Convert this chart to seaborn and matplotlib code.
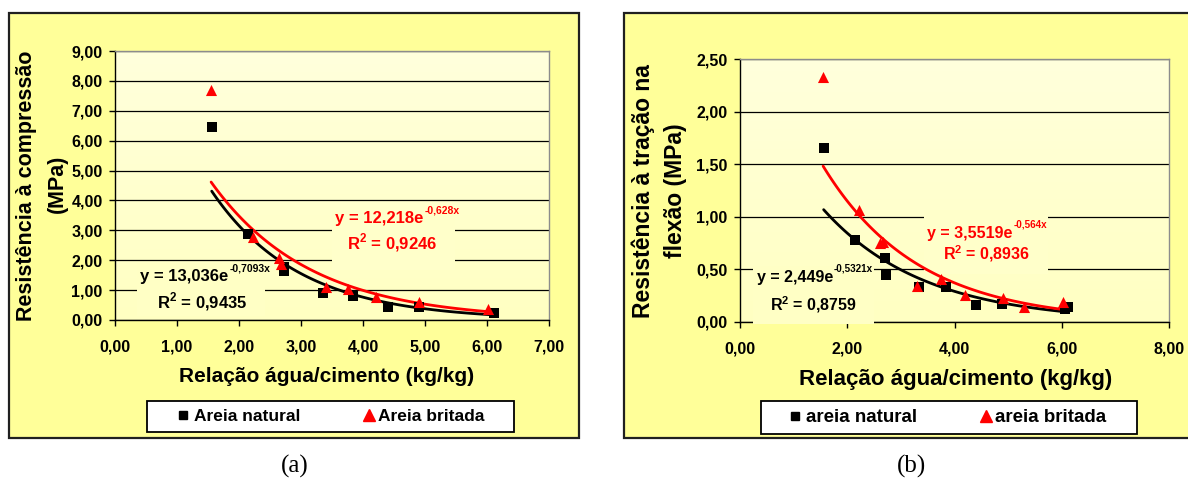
import numpy as np
import matplotlib
matplotlib.use("Agg")
import matplotlib.pyplot as plt
import seaborn as sns
from matplotlib.patches import Rectangle
from matplotlib.lines import Line2D
from matplotlib.ticker import FuncFormatter, MultipleLocator
from matplotlib.colors import LinearSegmentedColormap

# (a) compressive strength vs water/cement ratio
a_nat_x = [1.56, 2.14, 2.72, 2.73, 3.36, 3.84, 4.41, 4.91, 6.11]
a_nat_y = [6.46, 2.88, 1.65, 1.78, 0.91, 0.79, 0.42, 0.42, 0.25]
a_brit_x = [1.55, 2.22, 2.64, 2.67, 3.41, 3.76, 4.21, 4.91, 6.02]
a_brit_y = [7.71, 2.79, 2.08, 1.88, 1.09, 1.04, 0.76, 0.61, 0.36]

# (b) flexural tensile strength vs water/cement ratio
b_nat_x = [1.56, 2.14, 2.70, 2.73, 3.34, 3.85, 4.40, 4.89, 6.06, 6.11]
b_nat_y = [1.65, 0.78, 0.61, 0.45, 0.33, 0.33, 0.16, 0.17, 0.12, 0.14]
b_brit_x = [1.55, 2.21, 2.61, 2.66, 3.30, 3.75, 4.20, 4.90, 5.30, 6.02]
b_brit_y = [2.33, 1.06, 0.75, 0.76, 0.34, 0.41, 0.26, 0.23, 0.14, 0.19]

# exponential trendlines y = A*exp(k*x), as printed on the charts
a_nat_fit = (13.036, -0.7093, "0,9435")
a_brit_fit = (12.218, -0.628, "0,9246")
b_nat_fit = (2.449, -0.5321, "0,8759")
b_brit_fit = (3.5519, -0.564, "0,8936")

W, H = 1188, 482
BOX_YELLOW = "#FFFF99"
TOP_CLR = "#FFFFDC"
BOT_CLR = "#FFFFC2"
RED = "#FF0000"

sns.set_theme(style="white")
plt.rcParams["font.family"] = ["Liberation Sans", "DejaVu Sans"]
plt.rcParams["font.weight"] = "bold"
plt.rcParams["axes.labelweight"] = "bold"
plt.rcParams["text.color"] = "black"
plt.rcParams["xtick.color"] = "black"
plt.rcParams["ytick.color"] = "black"
plt.rcParams["mathtext.fontset"] = "custom"
plt.rcParams["mathtext.bf"] = "Liberation Sans:bold"
plt.rcParams["mathtext.rm"] = "Liberation Sans:bold"

fig = plt.figure(figsize=(W / 100, H / 100), dpi=100)
fig.patch.set_facecolor("white")


def px_rect(x0, y0, x1, y1):
    # pixel box (top-left origin) -> figure fraction rect
    return [x0 / W, 1 - y1 / H, (x1 - x0) / W, (y1 - y0) / H]


def fx(px):
    return px / W


def fy(py):
    return 1 - py / H


def comma(v, pos):
    return f"{v:.2f}".replace(".", ",")


grad = LinearSegmentedColormap.from_list("bg", [BOT_CLR, TOP_CLR])


def fit_line(ax, xs, fit, color):
    A, k, _ = fit
    xx = np.linspace(min(xs), max(xs), 120)
    sns.lineplot(x=xx, y=A * np.exp(k * xx), ax=ax, color=color, lw=2.0,
                 zorder=3, label="_nolegend_")


def eq_label(ax, x, y, fit, color, size):
    A, k, _ = fit
    a_txt = f"{A}".replace(".", ",")
    k_txt = f"{k}".replace(".", ",")
    main = ax.text(x, y, f"y = {a_txt}e", color=color, fontsize=size,
                   ha="left", va="center", zorder=6)
    ax.annotate(k_txt + "x", xy=(1, 0.75), xycoords=main, xytext=(0.5, 0),
                textcoords="offset points", color=color,
                fontsize=size * 0.62, ha="left", va="bottom", zorder=6)


def r2_label(ax, x, y, fit, color, size):
    ax.text(x, y, "R$^2$ = " + fit[2], fontsize=size, color=color,
            ha="center", va="center", zorder=6)


def panel(rect, box, xs_nat, ys_nat, xs_brit, ys_brit, fit_nat, fit_brit,
          xmax, xstep, ymax, ystep):
    fig.patches.append(Rectangle((box[0], box[1]), box[2], box[3],
                                 transform=fig.transFigure, facecolor=BOX_YELLOW,
                                 edgecolor="#202020", lw=1.6, zorder=-5))
    ax = fig.add_axes(rect)
    ax.imshow(np.linspace(1, 0, 64).reshape(-1, 1), cmap=grad, aspect="auto",
              extent=[0, 1, 0, 1], transform=ax.transAxes, zorder=0)
    ax.xaxis.set_major_locator(MultipleLocator(xstep))
    ax.yaxis.set_major_locator(MultipleLocator(ystep))
    ax.xaxis.set_major_formatter(FuncFormatter(comma))
    ax.yaxis.set_major_formatter(FuncFormatter(comma))
    ax.yaxis.grid(True, color="black", lw=0.9)
    ax.xaxis.grid(False)
    ax.set_axisbelow(True)
    for s in ["top", "right"]:
        ax.spines[s].set_color("#8c8c8c")
        ax.spines[s].set_linewidth(1.0)
    for s in ["left", "bottom"]:
        ax.spines[s].set_color("black")
        ax.spines[s].set_linewidth(1.0)
    ax.tick_params(axis="both", direction="out", length=4, width=1,
                   labelsize=11.5, colors="black", left=True, bottom=True)
    ax.tick_params(axis="y", pad=5)
    ax.tick_params(axis="x", pad=10)

    fit_line(ax, xs_nat, fit_nat, "black")
    fit_line(ax, xs_brit, fit_brit, RED)
    sns.scatterplot(x=xs_nat, y=ys_nat, ax=ax, marker="s", color="black",
                    s=42, edgecolor="black", linewidth=0, zorder=4)
    sns.scatterplot(x=xs_brit, y=ys_brit, ax=ax, marker="^", color=RED,
                    s=64, edgecolor=RED, linewidth=0, zorder=4)
    ax.set_xlim(0, xmax)
    ax.set_ylim(0, ymax)
    ax.set_xlabel("")
    ax.set_ylabel("")
    return ax


def legend_box(frame, items, size):
    # frame: pixel box; items: (marker, colour, marker_x, text_x, label, msize)
    x0, y0, x1, y1 = frame
    fig.patches.append(Rectangle((fx(x0), fy(y1)), (x1 - x0) / W, (y1 - y0) / H,
                                 transform=fig.transFigure, facecolor="white",
                                 edgecolor="black", lw=1.3, zorder=5))
    yc = (y0 + y1) / 2
    for mk, clr, mx, tx, label, ms in items:
        fig.add_artist(Line2D([fx(mx)], [fy(yc - 1.5)], transform=fig.transFigure,
                              ls="none", marker=mk, color=clr, markersize=ms,
                              zorder=6))
        fig.text(fx(tx), fy(yc), label, fontsize=size, ha="left", va="center",
                 zorder=6)


# ---------------- panel (a) ----------------
ax_a = panel(px_rect(115, 51, 549, 320), px_rect(9, 13, 579, 438),
             a_nat_x, a_nat_y, a_brit_x, a_brit_y, a_nat_fit, a_brit_fit,
             7, 1, 9, 1)
ax_a.add_patch(Rectangle((0.36, 0.12), 2.06, 1.78, facecolor=grad(0.1),
                         edgecolor="none", zorder=2.6))
ax_a.add_patch(Rectangle((3.5, 1.67), 1.98, 2.0, facecolor=grad(0.3),
                         edgecolor="none", zorder=2.6))
eq_label(ax_a, 0.41, 1.44, a_nat_fit, "black", 12)
r2_label(ax_a, 1.40, 0.60, a_nat_fit, "black", 12)
eq_label(ax_a, 3.55, 3.38, a_brit_fit, RED, 12)
r2_label(ax_a, 4.47, 2.58, a_brit_fit, RED, 12)

fig.text(fx(327), fy(377), "Relação água/cimento (kg/kg)", fontsize=15,
         ha="center", va="center")
fig.text(fx(27), fy(186), "Resistência à compressão", fontsize=15.5,
         rotation=90, ha="center", va="center")
fig.text(fx(57), fy(184), "(MPa)", fontsize=15.5, rotation=90,
         ha="center", va="center")

legend_box((147, 401, 514, 432),
           [("s", "black", 183, 194, "Areia natural", 6),
            ("^", RED, 369, 378, "Areia britada", 8)], 12.5)

# ---------------- panel (b) ----------------
ax_b = panel(px_rect(740, 59, 1169, 322), px_rect(624, 13, 1200, 438),
             b_nat_x, b_nat_y, b_brit_x, b_brit_y, b_nat_fit, b_brit_fit,
             8, 2, 2.5, 0.5)
ax_b.add_patch(Rectangle((0.24, -0.02), 2.26, 0.55, facecolor=grad(0.1),
                         edgecolor="none", zorder=2.6, clip_on=False))
ax_b.add_patch(Rectangle((3.43, 0.46), 2.32, 0.6, facecolor=grad(0.3),
                         edgecolor="none", zorder=2.6))
eq_label(ax_b, 0.31, 0.427, b_nat_fit, "black", 11.5)
r2_label(ax_b, 1.36, 0.161, b_nat_fit, "black", 11.5)
eq_label(ax_b, 3.49, 0.845, b_brit_fit, RED, 11.5)
r2_label(ax_b, 4.59, 0.646, b_brit_fit, RED, 11.5)

fig.text(fx(956), fy(380), "Relação água/cimento (kg/kg)", fontsize=16,
         ha="center", va="center")
fig.text(fx(643), fy(191), "Resistência à tração na", fontsize=16.5,
         rotation=90, ha="center", va="center")
fig.text(fx(675), fy(191), "flexão (MPa)", fontsize=16.5, rotation=90,
         ha="center", va="center")

legend_box((761, 401, 1137, 434),
           [("s", "black", 795, 806, "areia natural", 6),
            ("^", RED, 986, 995, "areia britada", 8.5)], 13.5)

fig.text(fx(295), fy(466), "(a)", fontsize=18, fontweight="normal",
         family=["Liberation Serif", "DejaVu Serif"], ha="center", va="center")
fig.text(fx(912), fy(466), "(b)", fontsize=18, fontweight="normal",
         family=["Liberation Serif", "DejaVu Serif"], ha="center", va="center")

fig.savefig("out.png", dpi=100)
